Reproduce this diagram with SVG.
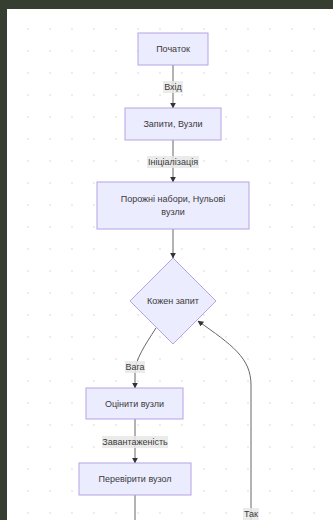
<svg xmlns="http://www.w3.org/2000/svg" width="333" height="520" viewBox="0 0 333 520">
  <defs>
    <pattern id="dots" patternUnits="userSpaceOnUse" x="17" y="18" width="22" height="22">
      <circle cx="11" cy="11" r="0.9" fill="#e4e4e4"/>
    </pattern>
    <marker id="arrow" viewBox="0 0 10 10" refX="9" refY="5" markerWidth="6" markerHeight="6" orient="auto-start-reverse" markerUnits="userSpaceOnUse">
      <path d="M0,0 L10,5 L0,10 z" fill="#333"/>
    </marker>
  </defs>
  <style>
    .node { fill: #ECECFF; stroke: #b5a3e6; stroke-width: 1; }
    .label { font-family: "Liberation Sans", Arial, sans-serif; font-size: 9px; fill: #3a3a3a; text-anchor: middle; dominant-baseline: central; }
    .edge { fill: none; stroke: #666; stroke-width: 1; marker-end: url(#arrow); }
    .plain { fill: none; stroke: #666; stroke-width: 1; }
    .elbg { fill: #e8e8e8; opacity: 0.85; }
  </style>

  <!-- frame and canvas -->
  <rect x="0" y="0" width="333" height="520" fill="#363e31"/>
  <rect x="7" y="9" width="326" height="511" fill="#ffffff"/>
  <rect x="7" y="9" width="326" height="511" fill="url(#dots)"/>

  <g id="connectors">
    <path class="edge" d="M173,65 L173,108"/>
    <path class="edge" d="M173,140 L173,182"/>
    <path class="edge" d="M173,229 L173,258"/>
    <path class="edge" d="M156,328 C145,345 135,360 135,372 L135,388"/>
    <path class="edge" d="M135,419 L135,463"/>
    <path class="plain" d="M135,495 L135,520"/>
    <path class="edge" d="M251,520 L251,385 C251,358 232,345 198,321"/>

    <rect class="elbg" x="163" y="81" width="20" height="12"/>
    <text class="label" x="173" y="87">Вхід</text>
    <rect class="elbg" x="147" y="156" width="52" height="12"/>
    <text class="label" x="173" y="162">Ініціалізація</text>
    <rect class="elbg" x="125" y="361" width="20" height="12"/>
    <text class="label" x="135" y="367">Вага</text>
    <rect class="elbg" x="102" y="436" width="66" height="12"/>
    <text class="label" x="135" y="442">Завантаженість</text>
    <rect class="elbg" x="243" y="508" width="16" height="12"/>
    <text class="label" x="251" y="514">Так</text>
  </g>

  <g id="start">
    <rect class="node" x="138" y="33" width="70" height="32"/>
    <text class="label" x="173" y="49">Початок</text>
  </g>
  <g id="requests">
    <rect class="node" x="125" y="108" width="96" height="32"/>
    <text class="label" x="173" y="124">Запити, Вузли</text>
  </g>
  <g id="init">
    <rect class="node" x="97" y="182" width="152" height="47"/>
    <text class="label" x="173" y="199">Порожні набори, Нульові</text>
    <text class="label" x="173" y="212">вузли</text>
  </g>
  <g id="each">
    <polygon class="node" points="173,258 216,301 173,344 130,301"/>
    <text class="label" x="173" y="301">Кожен запит</text>
  </g>
  <g id="evaluate">
    <rect class="node" x="86" y="388" width="97" height="31"/>
    <text class="label" x="134.5" y="404">Оцінити вузли</text>
  </g>
  <g id="check">
    <rect class="node" x="79" y="463" width="112" height="32"/>
    <text class="label" x="135" y="479">Перевірити вузол</text>
  </g>
</svg>
